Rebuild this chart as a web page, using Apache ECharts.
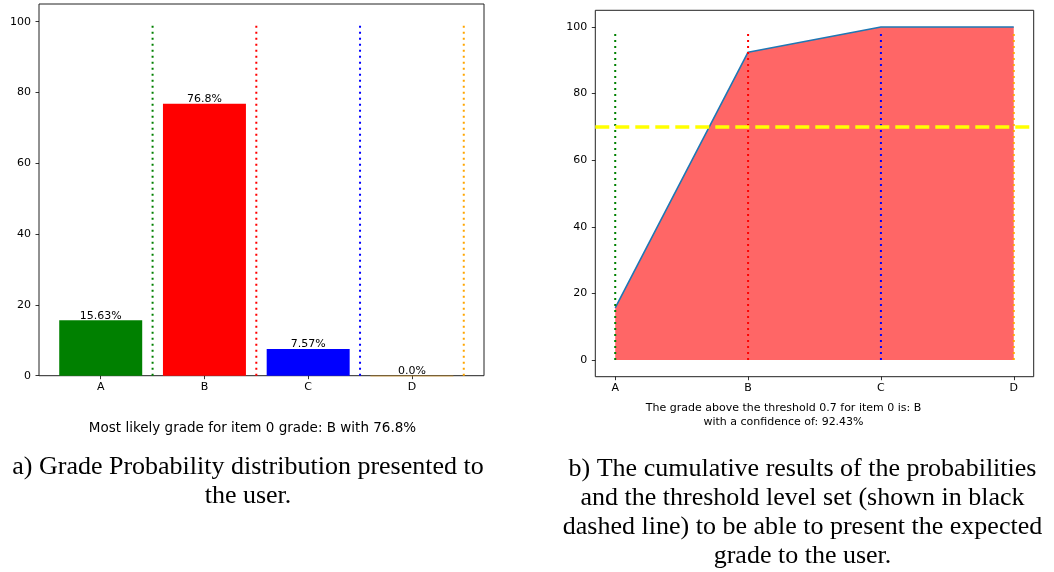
<!DOCTYPE html>
<html>
<head>
<meta charset="utf-8">
<script src="https://cdn.jsdelivr.net/npm/echarts@6/dist/echarts.min.js"></script>
<style>
  html, body { margin: 0; padding: 0; background: #fff; }
  #chart { width: 1054px; height: 572px; }
</style>
</head>
<body>
<div id="chart"></div>
<script>
// Grade categories and the model's probability for each (percent)
const grades = ['A', 'B', 'C', 'D'];
const probabilities = [15.63, 76.8, 7.57, 0.0];
// Running total of the probabilities (percent)
const cumulative = [15.63, 92.43, 100, 100];
const gradeColors = ['green', 'red', 'blue', 'orange'];
// Tick values shown on the axes
const yTickValues = [0, 20, 40, 60, 80, 100];
const xTickValues = [0, 1, 2, 3];
// Threshold level (0.7) in percent
const threshold = 70;
// Heights of the dotted grade markers
const markerTopLeft = 100;
const markerTopRight = 99;

const noteLeft = 'Most likely grade for item 0 grade: B with 76.8%';
const noteRight = ['The grade above the threshold 0.7 for item 0 is: B', 'with a confidence of: 92.43%'];
const captionLeft = ['a) Grade Probability distribution presented to', 'the user.'];
const captionRight = [
  'b) The cumulative results of the probabilities',
  'and the threshold level set (shown in black',
  'dashed line) to be able to present the expected',
  'grade to the user.'
];

const SANS = '"DejaVu Sans", sans-serif';
const SERIF = '"Liberation Serif", "DejaVu Serif", serif';

function fmtPct(v) {
  return (Number.isInteger(v) ? v.toFixed(1) : String(v)) + '%';
}

const chart = echarts.init(document.getElementById('chart'), null, { renderer: 'canvas' });

function valueXAxis(gridIndex, min, max) {
  return {
    type: 'value', gridIndex, min, max, position: 'bottom',
    splitLine: { show: false },
    axisLine: { show: false, onZero: false },
    axisTick: { show: true, length: 3.5, customValues: xTickValues, lineStyle: { color: '#000', width: 0.8 } },
    axisLabel: {
      customValues: xTickValues, margin: 6,
      color: '#000', fontFamily: SANS, fontSize: 11,
      formatter: v => grades[Math.round(v)]
    }
  };
}
function valueYAxis(gridIndex, min, max) {
  return {
    type: 'value', gridIndex, min, max, position: 'left',
    splitLine: { show: false },
    axisLine: { show: false, onZero: false },
    axisTick: { show: true, length: 3.5, customValues: yTickValues, lineStyle: { color: '#000', width: 0.8 } },
    axisLabel: { customValues: yTickValues, margin: 8, color: '#000', fontFamily: SANS, fontSize: 11 }
  };
}

function markerRenderer(params, api) {
  const idx = params.dataIndex;
  const a = api.coord([api.value(0), api.value(1)]);
  const b = api.coord([api.value(0), api.value(2)]);
  return {
    type: 'line',
    shape: { x1: a[0], y1: a[1], x2: b[0], y2: b[1] },
    style: { stroke: gradeColors[idx], lineWidth: 2, lineDash: [2, 4] }
  };
}

const textEls = [];
textEls.push({ type: 'text', x: 252.5, y: 428, style: { text: noteLeft, font: '13.5px ' + SANS, fill: '#000', align: 'center', verticalAlign: 'middle' } });
noteRight.forEach((t, i) => textEls.push({ type: 'text', x: 783.5, y: 407.7 + i * 14.8, style: { text: t, font: '11px ' + SANS, fill: '#000', align: 'center', verticalAlign: 'middle' } }));
captionLeft.forEach((t, i) => textEls.push({ type: 'text', x: 248, y: 467 + i * 29, style: { text: t, font: '26px ' + SERIF, fill: '#000', align: 'center', verticalAlign: 'middle' } }));
captionRight.forEach((t, i) => textEls.push({ type: 'text', x: 802.5, y: 469 + i * 29, style: { text: t, font: '26px ' + SERIF, fill: '#000', align: 'center', verticalAlign: 'middle' } }));

chart.setOption({
  animation: false,
  backgroundColor: '#fff',
  grid: [
    { left: 39, top: 4, width: 445, height: 371.7, show: true, borderColor: '#222', borderWidth: 1, backgroundColor: 'transparent', outerBoundsMode: 'none' },
    { left: 595.3, top: 10.3, width: 438.4, height: 366.4, show: true, borderColor: '#222', borderWidth: 1, backgroundColor: 'transparent', outerBoundsMode: 'none' }
  ],
  xAxis: [valueXAxis(0, -0.595, 3.695), valueXAxis(1, -0.15, 3.15)],
  yAxis: [valueYAxis(0, 0, 105), valueYAxis(1, -5, 105)],
  series: [
    {
      // probability bars with value labels
      type: 'custom', xAxisIndex: 0, yAxisIndex: 0,
      encode: { x: 0, y: 1 },
      data: probabilities.map((v, i) => [i, v]),
      renderItem: (params, api) => {
        const i = api.value(0), v = api.value(1);
        const p0 = api.coord([i - 0.4, v]);
        const p1 = api.coord([i + 0.4, 0]);
        return {
          type: 'group',
          children: [
            { type: 'rect', shape: { x: p0[0], y: p0[1], width: p1[0] - p0[0], height: Math.max(p1[1] - p0[1], 0.6) }, style: { fill: gradeColors[i] } },
            { type: 'text', x: (p0[0] + p1[0]) / 2, y: p0[1] + 1, style: { text: fmtPct(v), font: '11px ' + SANS, fill: '#000', align: 'center', verticalAlign: 'bottom' } }
          ]
        };
      },
      z: 2
    },
    {
      // dotted separators after each grade
      type: 'custom', xAxisIndex: 0, yAxisIndex: 0,
      encode: { x: 0, y: [1, 2] },
      data: xTickValues.map(x => [x + 0.5, 0, markerTopLeft]),
      renderItem: markerRenderer,
      z: 3
    },
    {
      // cumulative probability curve
      type: 'line', xAxisIndex: 1, yAxisIndex: 1,
      data: cumulative.map((v, i) => [i, v]),
      showSymbol: false, symbol: 'none',
      lineStyle: { color: '#1f77b4', width: 1.6 },
      areaStyle: { color: 'rgba(255,0,0,0.6)', opacity: 1 },
      z: 2,
      markLine: {
        silent: true, symbol: 'none', label: { show: false },
        lineStyle: { color: '#ffff00', width: 3.5, type: [14, 6] },
        data: [{ yAxis: threshold }],
        z: 6
      }
    },
    {
      // dotted markers at each grade
      type: 'custom', xAxisIndex: 1, yAxisIndex: 1,
      encode: { x: 0, y: [1, 2] },
      data: xTickValues.map(x => [x, 0, markerTopRight]),
      renderItem: markerRenderer,
      z: 4
    }
  ],
  graphic: textEls
});
</script>
</body>
</html>
